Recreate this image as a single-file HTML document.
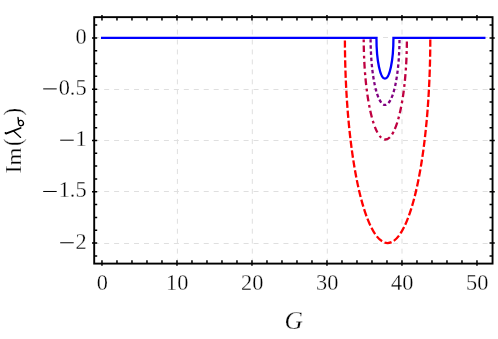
<!DOCTYPE html>
<html><head><meta charset="utf-8"><title>plot</title>
<style>
html,body{margin:0;padding:0;background:#fff;}
body{width:498px;height:339px;overflow:hidden;}
svg{display:block;will-change:transform;}
text{font-family:"Liberation Serif",serif;fill:#000;stroke:#fff;stroke-width:0.3px;}
</style></head><body>
<svg width="498" height="339" viewBox="0 0 498 339">
<rect x="0" y="0" width="498" height="339" fill="#fff"/>

<g stroke="#dfdfdf" stroke-width="1" stroke-dasharray="4.98 4.98" fill="none">
<path d="M177.4 263.6 V17.15"/>
<path d="M252.3 263.6 V17.15"/>
<path d="M327.3 263.6 V17.15"/>
<path d="M402.0 263.6 V17.15"/>
<path d="M94.2 37.5 H492.55"/>
<path d="M94.2 89.5 H492.55"/>
<path d="M94.2 140.5 H492.55"/>
<path d="M94.2 191.5 H492.55"/>
<path d="M94.2 243.5 H492.55"/>
</g>
<path d="M102.97 37.95 H344.90" fill="none" stroke="#ff0000" stroke-width="2.1" stroke-dasharray="7.3 2.714" stroke-dashoffset="5.86"/>
<path d="M344.90 37.95 A42.70 205.10 0 0 0 430.30 37.95" fill="none" stroke="#ff0000" stroke-width="2.3" stroke-dasharray="7.3 2.714" stroke-dashoffset="7.45"/>
<path d="M102.97 37.95 H363.70" fill="none" stroke="#bf0040" stroke-width="2.1" stroke-dasharray="6.6 3.67 2.8 3.28" stroke-dashoffset="9.47"/>
<path d="M363.70 37.95 A21.60 101.70 0 0 0 406.90 37.95" fill="none" stroke="#bf0040" stroke-width="2.3" stroke-dasharray="6.6 3.67 2.8 3.28" stroke-dashoffset="8.60"/>
<path d="M102.97 37.95 H370.60" fill="none" stroke="#800080" stroke-width="2.1" stroke-dasharray="3.4 2.72" stroke-dashoffset="0.28"/>
<path d="M370.60 37.95 A14.45 67.00 0 0 0 399.50 37.95" fill="none" stroke="#800080" stroke-width="2.3" stroke-dasharray="3.4 2.72" stroke-dashoffset="4.75"/>
<path d="M100.97 37.95 L376.45 37.95 A8.50 40.70 0 0 0 393.45 37.95 L485.47 37.95" fill="none" stroke="#0000ff" stroke-width="2.3" stroke-linejoin="miter"/>
<rect x="94.2" y="17.15" width="398.35" height="246.45" fill="none" stroke="#000" stroke-width="1.9"/>
<path d="M101.97 265.80 V260.30 M101.97 14.95 V20.45 M116.97 263.60 V260.30 M116.97 17.15 V20.45 M131.97 263.60 V260.30 M131.97 17.15 V20.45 M146.97 263.60 V260.30 M146.97 17.15 V20.45 M161.97 263.60 V260.30 M161.97 17.15 V20.45 M176.97 265.80 V260.30 M176.97 14.95 V20.45 M191.97 263.60 V260.30 M191.97 17.15 V20.45 M206.97 263.60 V260.30 M206.97 17.15 V20.45 M221.97 263.60 V260.30 M221.97 17.15 V20.45 M236.97 263.60 V260.30 M236.97 17.15 V20.45 M251.97 265.80 V260.30 M251.97 14.95 V20.45 M266.97 263.60 V260.30 M266.97 17.15 V20.45 M281.97 263.60 V260.30 M281.97 17.15 V20.45 M296.97 263.60 V260.30 M296.97 17.15 V20.45 M311.97 263.60 V260.30 M311.97 17.15 V20.45 M326.97 265.80 V260.30 M326.97 14.95 V20.45 M341.97 263.60 V260.30 M341.97 17.15 V20.45 M356.97 263.60 V260.30 M356.97 17.15 V20.45 M371.97 263.60 V260.30 M371.97 17.15 V20.45 M386.97 263.60 V260.30 M386.97 17.15 V20.45 M401.97 265.80 V260.30 M401.97 14.95 V20.45 M416.97 263.60 V260.30 M416.97 17.15 V20.45 M431.97 263.60 V260.30 M431.97 17.15 V20.45 M446.97 263.60 V260.30 M446.97 17.15 V20.45 M461.97 263.60 V260.30 M461.97 17.15 V20.45 M476.97 265.80 V260.30 M476.97 14.95 V20.45 M94.20 255.88 H97.20 M492.55 255.88 H489.55 M92.00 243.06 H97.20 M494.75 243.06 H489.55 M94.20 230.24 H97.20 M492.55 230.24 H489.55 M94.20 217.41 H97.20 M492.55 217.41 H489.55 M94.20 204.59 H97.20 M492.55 204.59 H489.55 M92.00 191.77 H97.20 M494.75 191.77 H489.55 M94.20 178.95 H97.20 M492.55 178.95 H489.55 M94.20 166.12 H97.20 M492.55 166.12 H489.55 M94.20 153.30 H97.20 M492.55 153.30 H489.55 M92.00 140.48 H97.20 M494.75 140.48 H489.55 M94.20 127.66 H97.20 M492.55 127.66 H489.55 M94.20 114.84 H97.20 M492.55 114.84 H489.55 M94.20 102.01 H97.20 M492.55 102.01 H489.55 M92.00 89.19 H97.20 M494.75 89.19 H489.55 M94.20 76.37 H97.20 M492.55 76.37 H489.55 M94.20 63.55 H97.20 M492.55 63.55 H489.55 M94.20 50.72 H97.20 M492.55 50.72 H489.55 M92.00 37.90 H97.20 M494.75 37.90 H489.55 M94.20 25.08 H97.20 M492.55 25.08 H489.55" stroke="#000" stroke-width="1.5" fill="none"/>
<text transform="translate(86.6,43.50) scale(0.955,1)" font-size="23.4" text-anchor="end">0</text>
<text transform="translate(86.6,94.79) scale(0.955,1)" font-size="23.4" text-anchor="end">0.5</text>
<rect x="43.20" y="88.39" width="13.50" height="1" fill="#000"/>
<text transform="translate(86.6,146.08) scale(0.955,1)" font-size="23.4" text-anchor="end">1</text>
<rect x="60.20" y="139.68" width="13.50" height="1" fill="#000"/>
<text transform="translate(86.6,197.37) scale(0.955,1)" font-size="23.4" text-anchor="end">1.5</text>
<rect x="43.20" y="190.97" width="13.50" height="1" fill="#000"/>
<text transform="translate(86.6,248.66) scale(0.955,1)" font-size="23.4" text-anchor="end">2</text>
<rect x="60.20" y="242.26" width="13.50" height="1" fill="#000"/>
<text transform="translate(102.27,289.9) scale(0.955,1)" font-size="23.4" text-anchor="middle">0</text>
<text transform="translate(177.27,289.9) scale(0.955,1)" font-size="23.4" text-anchor="middle">10</text>
<text transform="translate(252.27,289.9) scale(0.955,1)" font-size="23.4" text-anchor="middle">20</text>
<text transform="translate(327.27,289.9) scale(0.955,1)" font-size="23.4" text-anchor="middle">30</text>
<text transform="translate(402.27,289.9) scale(0.955,1)" font-size="23.4" text-anchor="middle">40</text>
<text transform="translate(477.27,289.9) scale(0.955,1)" font-size="23.4" text-anchor="middle">50</text>
<text x="293.6" y="329.0" font-size="25.5" font-style="italic" text-anchor="middle">G</text>
<g transform="translate(21,140) rotate(-90)">
<text x="-29.5" y="0" font-size="23.2" text-anchor="middle">I</text>
<text transform="translate(-16.5,0) scale(1.07,1)" font-size="21.5" text-anchor="middle">m</text>
<text transform="translate(-2.2,0) scale(0.93,1)" x="0" y="0" font-size="24.4" text-anchor="middle">(</text>
<text transform="translate(28.2,0) scale(0.93,1)" x="0" y="0" font-size="24.4" text-anchor="middle">)</text>
</g>
<g fill="none" stroke="#000" stroke-linecap="round">
<path d="M5.5 132.9 Q5.6 133.9 6.6 133.4 L20.6 128.0" stroke-width="1.8"/>
<path d="M13.6 131.0 L20.6 137.4" stroke-width="1.3"/>
<path d="M18.0 117.4 L18.5 121.6" stroke-width="1.4"/>
<ellipse cx="21.0" cy="123.0" rx="2.5" ry="2.7" stroke-width="1.3" transform="rotate(-15 21.1 123.2)"/>
</g>
</svg></body></html>
